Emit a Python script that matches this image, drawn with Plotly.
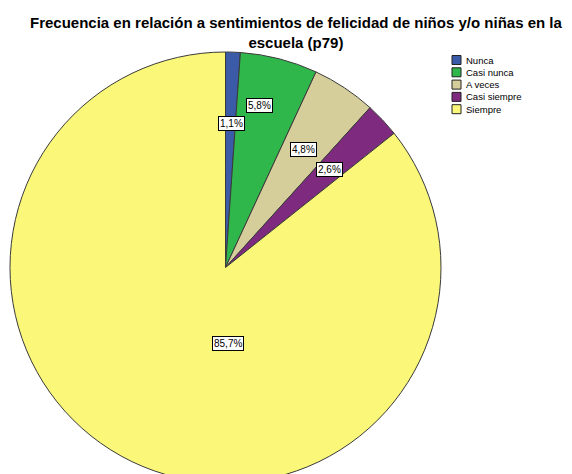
import math
import plotly.graph_objects as go

# Category data
categories = ["Nunca", "Casi nunca", "A veces", "Casi siempre", "Siempre"]
percentages = [1.1, 5.8, 4.8, 2.6, 85.7]
colors = ["#3b5ba9", "#2fb74b", "#d5ce9b", "#7d2a7f", "#fbf779"]
value_labels = ["1,1%", "5,8%", "4,8%", "2,6%", "85,7%"]
title_lines = ["Frecuencia en relación a sentimientos de felicidad de niños y/o niñas en la",
               "escuela (p79)"]

# Label placement (fraction of radius, angular nudge in degrees)
label_radius = [0.671, 0.766, 0.658, 0.663, 0.355]
label_shift = [0.2, -2.5, -0.1, -0.1, -27.9]

W, H = 572, 500
CX, CY, R = 225.5, 267.5, 215.5

def px_to_paper(x, y):
    return x / W, 1 - y / H

fig = go.Figure(go.Pie(
    labels=categories,
    values=percentages,
    sort=False,
    direction="clockwise",
    rotation=0,
    marker=dict(colors=colors, line=dict(color="#3a3a3a", width=1)),
    textinfo="none",
    hoverinfo="label+percent",
    showlegend=False,
    domain=dict(x=[(CX - R) / W, (CX + R) / W],
                y=[1 - (CY + R) / H, 1 - (CY - R) / H]),
))

# Value labels in white boxes
total = sum(percentages)
cum = 0.0
annotations = []
for i, v in enumerate(percentages):
    mid = (cum + v / 2) / total * 360 + label_shift[i]
    cum += v
    a = math.radians(mid)
    lx = CX + math.sin(a) * R * label_radius[i]
    ly = CY - math.cos(a) * R * label_radius[i]
    px, py = px_to_paper(lx, ly)
    annotations.append(dict(
        x=px, y=py, xref="paper", yref="paper", text=value_labels[i],
        showarrow=False, font=dict(family="Liberation Sans, Arial", size=10, color="#000"),
        bgcolor="#ffffff", bordercolor="#000000", borderwidth=1, borderpad=1,
        xanchor="center", yanchor="middle",
    ))

# Legend drawn as swatches and text
shapes = []
LX, LY0, STEP, SW = 452, 60, 12.3, 9
for i, name in enumerate(categories):
    yc = LY0 + i * STEP
    x0, y0 = px_to_paper(LX, yc - SW / 2)
    x1, y1 = px_to_paper(LX + SW, yc + SW / 2)
    shapes.append(dict(type="rect", xref="paper", yref="paper",
                       x0=x0, x1=x1, y0=y1, y1=y0,
                       fillcolor=colors[i], line=dict(color="#222", width=1)))
    tx, ty = px_to_paper(LX + SW + 3, yc)
    annotations.append(dict(
        x=tx, y=ty, xref="paper", yref="paper", text=name, showarrow=False,
        font=dict(family="Liberation Sans, Arial", size=9.5, color="#000"),
        xanchor="left", yanchor="middle",
    ))

# Title as one centred two-line text
tx, ty = px_to_paper(295.5, 32.5)
annotations.append(dict(
    x=tx, y=ty, xref="paper", yref="paper", showarrow=False,
    text="<br>".join(f"<b>{line}</b>" for line in title_lines),
    font=dict(family="Liberation Sans, Arial", size=15, color="#000"),
    xanchor="center", yanchor="middle", align="center", borderpad=0,
))

fig.update_layout(
    width=W, height=H,
    margin=dict(l=0, r=0, t=0, b=0),
    paper_bgcolor="#ffffff", plot_bgcolor="#ffffff",
    annotations=annotations, shapes=shapes,
)

fig.write_html("out.html", post_script=(
    "document.body.style.margin='0';"
    "document.body.style.overflow='hidden';"
    "document.documentElement.style.overflow='hidden';"
))
